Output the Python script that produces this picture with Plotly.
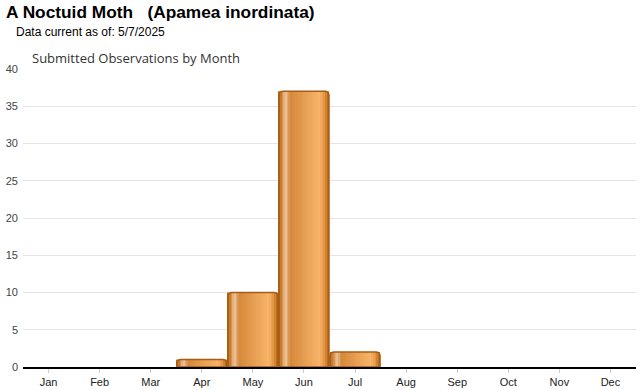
import plotly.graph_objects as go

months = ["Jan", "Feb", "Mar", "Apr", "May", "Jun", "Jul", "Aug", "Sep", "Oct", "Nov", "Dec"]
counts = [0, 0, 0, 1, 10, 37, 2, 0, 0, 0, 0, 0]
y_ticks = [0, 5, 10, 15, 20, 25, 30, 35, 40]

title_text = "A Noctuid Moth\u00a0\u00a0\u00a0(Apamea inordinata)"
date_text = "Data current as of: 5/7/2025"
subtitle_text = "Submitted Observations by Month"

# horizontal gradient across each bar (position 0..1, rgb)
grad_stops = [
    (0.00, (176, 96, 18)),
    (0.06, (205, 128, 50)),
    (0.14, (234, 196, 156)),
    (0.24, (214, 136, 58)),
    (0.55, (232, 160, 84)),
    (0.82, (246, 180, 104)),
    (0.92, (226, 150, 70)),
    (1.00, (180, 98, 20)),
]


def interp(t):
    for (p0, c0), (p1, c1) in zip(grad_stops[:-1], grad_stops[1:]):
        if p0 <= t <= p1:
            f = (t - p0) / (p1 - p0) if p1 > p0 else 0
            return "rgb(%d,%d,%d)" % tuple(round(a + (b - a) * f) for a, b in zip(c0, c1))
    return "rgb(%d,%d,%d)" % grad_stops[-1][1]


x_idx = list(range(len(months)))
bar_vals = [c if c else None for c in counts]
W = 0.98
N = 30
fig = go.Figure()
for i in range(N):
    t = (i + 0.5) / N
    fig.add_trace(go.Bar(
        x=x_idx, y=bar_vals, width=W / N, offset=-W / 2 + i * W / N,
        marker=dict(color=interp(t), line=dict(width=0)),
        hoverinfo="skip", showlegend=False,
    ))
fig.add_trace(go.Bar(
    x=x_idx, y=bar_vals, width=W, offset=-W / 2,
    marker=dict(color="rgba(0,0,0,0)", line=dict(color="#a65c12", width=1.5), cornerradius=4),
    showlegend=False, hovertemplate="%{y}<extra></extra>",
))

fig.update_layout(
    width=640, height=390,
    barmode="overlay",
    margin=dict(l=23, r=4, t=69, b=23),
    paper_bgcolor="white", plot_bgcolor="white",
    font=dict(family="Arial, Liberation Sans, sans-serif", color="#222"),
    xaxis=dict(
        range=[-0.5, 11.5], tickvals=x_idx, ticktext=months,
        showline=True, linecolor="black", linewidth=1.5,
        ticks="outside", ticklen=4, tickcolor="#cccccc", tickwidth=1,
        tickfont=dict(size=11, color="#222"), showgrid=False, zeroline=False,
        fixedrange=True, automargin=False,
    ),
    yaxis=dict(
        range=[0, 40], tickvals=y_ticks, showgrid=True, gridcolor="#e4e4e4", gridwidth=1,
        zeroline=False, showline=False, ticks="", tickfont=dict(size=11, color="#444"),
        ticklabelstandoff=4, fixedrange=True, automargin=False,
    ),
    annotations=[
        dict(text="<b>" + title_text + "</b>", xref="paper", yref="paper",
             x=-19 / 613, y=(367 - 12) / 298, xanchor="left", yanchor="middle",
             showarrow=False, font=dict(size=17.3, color="black", family="Arial, Liberation Sans, sans-serif")),
        dict(text=date_text, xref="paper", yref="paper",
             x=-9 / 613, y=(367 - 32) / 298, xanchor="left", yanchor="middle",
             showarrow=False, font=dict(size=12, color="black", family="Arial, Liberation Sans, sans-serif")),
        dict(text=subtitle_text, xref="paper", yref="paper",
             x=7 / 613, y=(367 - 58) / 298, xanchor="left", yanchor="middle",
             showarrow=False, font=dict(size=13, color="#333", family="Open Sans, sans-serif")),
    ],
)

fig.write_html("out.html", config={"displayModeBar": False},
               post_script="document.body.style.margin='0';")
